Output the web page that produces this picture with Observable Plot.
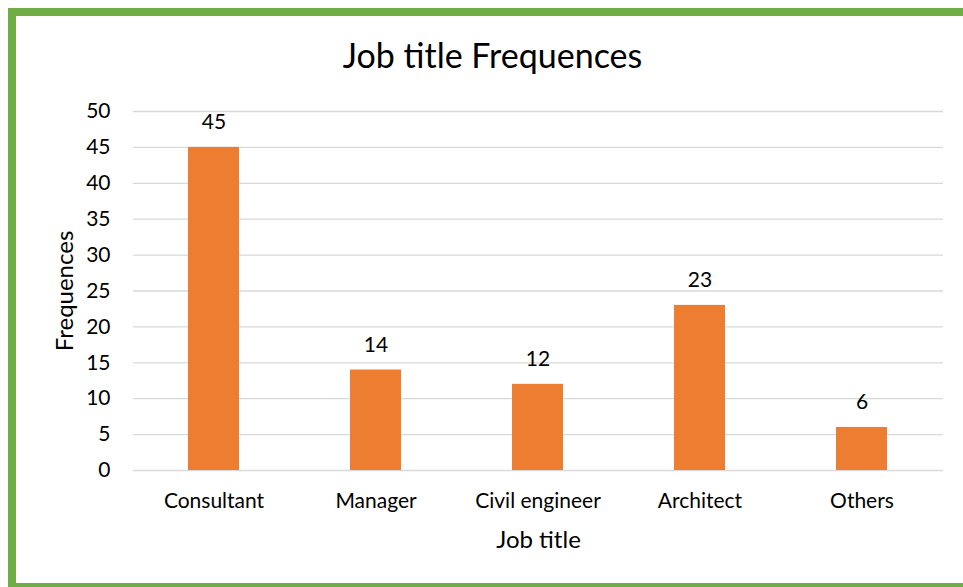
<!DOCTYPE html>
<html>
<head>
<meta charset="utf-8">
<script src="https://cdn.jsdelivr.net/npm/d3@7"></script>
<script src="https://cdn.jsdelivr.net/npm/@observablehq/plot@0.6"></script>
<style>
  html, body { margin: 0; padding: 0; background: #fff; overflow: hidden; }
  #wrap { position: relative; width: 963px; height: 587px; overflow: hidden; font-family: Lato, "Open Sans", sans-serif; }
  #frame { position: absolute; left: 8px; top: 8px; width: 1000px; height: 567px; border: 8px solid #70AD47; box-sizing: content-box; }
  #title { position: absolute; left: 0; width: 985px; top: 35px; text-align: center; font-size: 34px; line-height: 40px; color: #000; }
  #chart { position: absolute; left: 0; top: 0; }
</style>
</head>
<body>
<div id="wrap">
  <div id="frame"></div>
  <div id="title">Job title Frequences</div>
  <div id="chart"></div>
</div>
<script>
const categories = ["Consultant", "Manager", "Civil engineer", "Architect", "Others"];
const frequencies = [45, 14, 12, 23, 6];
const yTicks = [0, 5, 10, 15, 20, 25, 30, 35, 40, 45, 50];
const xLabel = "Job title";
const yLabel = "Frequences";

const data = categories.map((c, i) => ({category: c, value: frequencies[i]}));

const chart = Plot.plot({
  width: 963,
  height: 587,
  marginLeft: 133,
  marginRight: 20,
  marginTop: 111,
  marginBottom: 117,
  style: {fontFamily: "Lato, 'Open Sans', sans-serif", fontSize: "21px", background: "transparent", color: "#000"},
  x: {domain: categories, paddingInner: 0.685, paddingOuter: 0.3425, label: null},
  y: {domain: [0, 50], label: null},
  marks: [
    Plot.gridY(yTicks, {stroke: "#d9d9d9", strokeOpacity: 1, strokeWidth: 1.3}),
    Plot.axisY(yTicks, {tickSize: 0, tickPadding: 23, fontSize: 21, fill: "#000"}),
    Plot.axisX({tickSize: 0, tickPadding: 23, fontSize: 21, fill: "#000"}),
    Plot.barY(data, {x: "category", y: "value", fill: "#ED7D31"}),
    Plot.text(data, {x: "category", y: "value", text: d => String(d.value), dy: -25, fontSize: 21, fill: "#000"}),
    Plot.text([xLabel], {frameAnchor: "bottom", textAnchor: "middle", lineAnchor: "middle", dy: 70, fontSize: 24, fill: "#000"}),
    Plot.text([yLabel], {frameAnchor: "left", textAnchor: "middle", lineAnchor: "middle", dx: -68, rotate: -90, fontSize: 24, fill: "#000"})
  ]
});
document.getElementById("chart").appendChild(chart);
</script>
</body>
</html>
